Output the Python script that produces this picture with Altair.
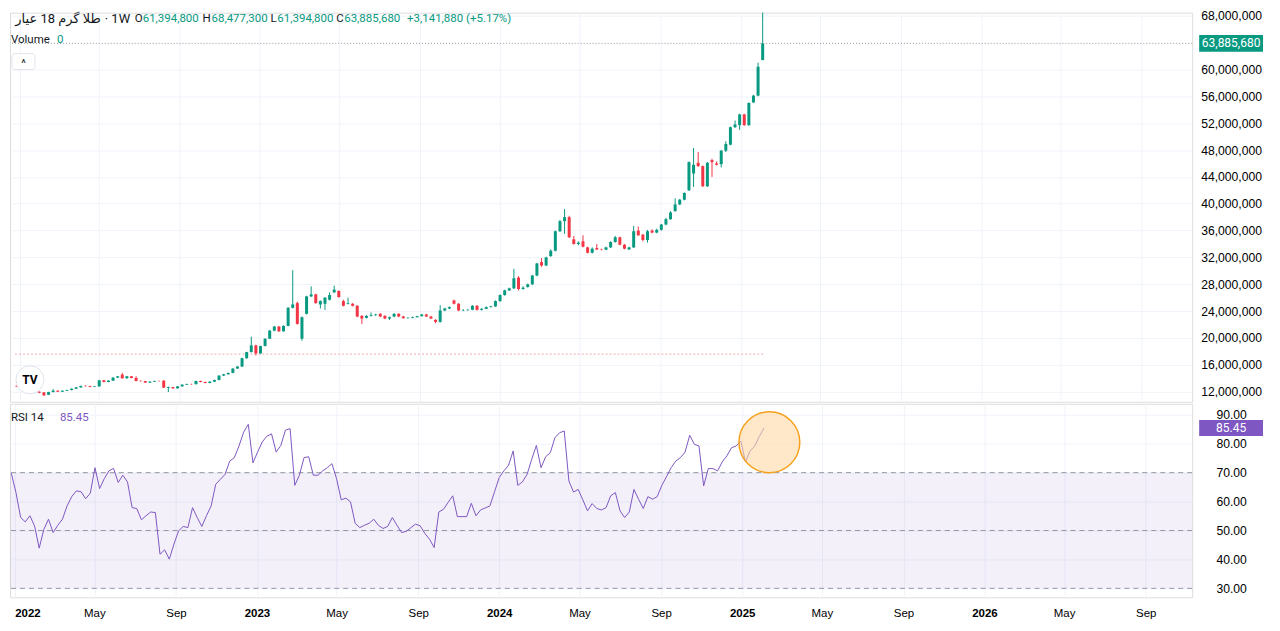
import altair as alt
import pandas as pd

FONT = "Roboto, 'DejaVu Sans', sans-serif"
GREEN = "#089981"
RED = "#F23645"
PURPLE = "#7E57C2"
GRID = "#F0F3FA"
TEXT = "#131722"

# ---------------- data (weekly candles, millions of rials) ----------------
start_date = "2021-12-27"

opens = [
    12.85, 12.80, 12.72, 12.30, 11.85, 12.00, 11.90, 11.55, 11.95, 12.15,
    12.00, 12.15, 12.25, 12.45, 12.65, 12.88, 12.83, 12.72, 12.80, 13.70,
    13.45, 13.65, 14.10, 14.55, 14.00, 14.30, 14.05, 13.62, 13.58, 13.35,
    13.50, 13.60, 13.65, 12.55, 12.68, 12.50, 12.80, 13.05, 13.15, 13.12,
    13.60, 13.45, 13.30, 13.50, 13.75, 14.40, 14.60, 14.80, 15.45, 15.75,
    17.00, 17.90, 18.90, 17.70, 18.80, 19.90, 21.10, 21.70, 21.00, 21.80,
    24.50, 25.20, 19.90, 23.60, 26.20, 26.50, 25.00, 25.10, 25.70, 26.80,
    27.00, 25.50, 25.10, 25.10, 24.80, 23.30, 23.00, 23.30, 23.40, 23.60,
    23.30, 22.90, 23.20, 23.60, 23.20, 22.95, 23.00, 23.10, 23.25, 23.50,
    23.20, 22.70, 22.40, 24.10, 24.40, 25.60, 25.10, 24.10, 24.15, 24.20,
    24.80, 24.20, 24.35, 24.60, 24.70, 25.50, 26.40, 27.10, 27.40, 29.00,
    27.30, 27.60, 28.00, 29.30, 31.30, 30.80, 32.20, 33.00, 35.90, 37.40,
    38.00, 34.70, 34.00, 34.40, 33.50, 32.70, 33.40, 33.20, 33.15, 33.50,
    34.30, 35.00, 33.90, 33.20, 33.50, 36.00, 35.40, 34.60, 36.00, 35.70,
    36.10, 36.90, 37.70, 38.90, 39.90, 40.60, 42.00, 44.50, 46.10, 45.60,
    42.60, 46.50, 46.00, 45.90, 47.90, 48.80, 51.40, 51.70, 53.30, 51.70,
    55.10, 56.10, 61.3948,
]
highs = [
    12.95, 12.88, 12.80, 12.35, 12.10, 12.05, 11.95, 12.00, 12.40, 12.20,
    12.20, 12.30, 12.50, 12.70, 12.90, 12.95, 12.88, 12.85, 13.75, 13.75,
    13.70, 14.15, 14.35, 14.80, 14.35, 14.35, 14.30, 13.70, 13.62, 13.55,
    13.65, 13.68, 13.70, 12.75, 12.72, 12.85, 13.10, 13.20, 13.20, 13.65,
    13.65, 13.50, 13.55, 13.80, 14.45, 14.65, 14.85, 15.50, 15.80, 17.05,
    17.95, 20.20, 19.00, 18.85, 19.95, 21.20, 21.80, 21.80, 21.90, 24.60,
    30.10, 25.40, 23.20, 26.30, 27.70, 26.60, 25.60, 26.10, 26.80, 27.80,
    27.10, 25.70, 26.00, 25.20, 24.90, 23.40, 23.40, 23.80, 23.60, 23.70,
    23.40, 23.20, 23.70, 23.70, 23.30, 23.10, 23.20, 23.30, 23.60, 23.60,
    23.30, 22.80, 24.90, 24.50, 24.70, 25.70, 25.20, 24.30, 24.30, 24.90,
    24.90, 24.45, 24.70, 24.80, 25.60, 26.50, 27.20, 27.50, 30.30, 29.20,
    27.70, 28.10, 29.40, 31.20, 31.90, 32.10, 33.20, 36.00, 37.60, 39.20,
    38.20, 35.20, 34.40, 35.30, 33.60, 33.50, 34.00, 33.30, 33.60, 34.40,
    35.20, 35.10, 34.00, 33.60, 36.70, 36.60, 35.50, 36.10, 36.20, 36.30,
    37.00, 37.90, 38.90, 40.80, 40.70, 41.70, 46.30, 48.30, 47.70, 45.70,
    46.20, 46.70, 46.30, 48.00, 49.30, 51.50, 52.40, 53.40, 53.40, 55.10,
    56.20, 61.00, 68.4773,
]
lows = [
    12.72, 12.62, 12.22, 11.75, 11.80, 11.78, 11.40, 11.50, 11.90, 11.95,
    11.95, 12.10, 12.20, 12.40, 12.60, 12.78, 12.65, 12.68, 12.75, 13.40,
    13.40, 13.60, 14.05, 13.95, 13.95, 14.00, 13.55, 13.50, 13.30, 13.30,
    13.45, 13.52, 12.55, 11.95, 12.45, 12.45, 12.75, 13.00, 13.05, 13.10,
    13.40, 13.25, 13.25, 13.45, 13.70, 14.35, 14.55, 14.75, 15.40, 15.70,
    16.90, 17.85, 17.40, 17.65, 18.75, 19.85, 21.00, 20.90, 20.95, 21.75,
    24.40, 22.00, 19.60, 23.50, 26.10, 25.10, 24.40, 24.20, 25.60, 26.70,
    26.00, 24.70, 25.00, 24.70, 23.10, 22.10, 22.90, 23.20, 23.30, 23.10,
    22.80, 22.70, 23.10, 23.10, 22.90, 22.90, 22.95, 23.05, 23.20, 23.15,
    22.85, 22.20, 22.30, 24.00, 24.30, 25.00, 24.00, 24.00, 24.05, 24.15,
    24.10, 24.10, 24.30, 24.55, 24.65, 25.40, 26.30, 27.00, 27.30, 27.10,
    27.20, 27.50, 27.90, 29.20, 30.60, 30.70, 32.10, 32.90, 35.80, 35.50,
    34.90, 33.90, 33.80, 33.50, 32.60, 32.60, 33.10, 33.05, 33.10, 33.40,
    34.20, 33.80, 33.20, 33.10, 33.40, 35.20, 34.40, 34.20, 35.60, 35.60,
    36.00, 36.80, 37.60, 38.80, 39.80, 40.50, 41.90, 42.50, 45.50, 42.50,
    42.50, 44.00, 45.70, 45.40, 47.70, 48.70, 51.30, 51.00, 51.60, 51.60,
    55.00, 56.00, 61.3948,
]
closes = [
    12.80, 12.72, 12.30, 11.85, 12.00, 11.85, 11.45, 11.95, 12.15, 12.00,
    12.15, 12.25, 12.45, 12.65, 12.85, 12.83, 12.72, 12.80, 13.70, 13.45,
    13.65, 14.10, 14.30, 14.00, 14.30, 14.05, 13.60, 13.58, 13.35, 13.50,
    13.60, 13.58, 12.60, 12.68, 12.50, 12.80, 13.05, 13.15, 13.12, 13.60,
    13.45, 13.30, 13.50, 13.75, 14.40, 14.60, 14.80, 15.45, 15.75, 17.00,
    17.90, 18.90, 17.70, 18.80, 19.90, 21.10, 21.70, 21.00, 21.80, 24.50,
    25.00, 22.10, 23.10, 26.20, 26.50, 25.20, 25.50, 26.00, 26.40, 27.20,
    26.10, 24.80, 25.20, 24.80, 23.20, 22.90, 23.30, 23.40, 23.50, 23.20,
    22.90, 23.10, 23.60, 23.20, 22.95, 23.00, 23.10, 23.25, 23.50, 23.20,
    22.90, 22.40, 24.10, 24.40, 24.60, 25.10, 24.10, 24.15, 24.20, 24.80,
    24.20, 24.35, 24.60, 24.70, 25.50, 26.40, 27.10, 27.40, 28.90, 27.30,
    27.50, 28.00, 29.30, 31.10, 30.80, 32.00, 33.00, 35.90, 37.40, 38.00,
    35.00, 34.00, 34.20, 33.60, 32.70, 33.30, 33.20, 33.15, 33.50, 34.30,
    35.00, 33.90, 33.30, 33.50, 35.90, 35.30, 34.60, 35.90, 35.70, 36.10,
    36.90, 37.70, 38.70, 39.90, 40.60, 41.60, 46.20, 45.80, 45.60, 42.60,
    46.10, 46.20, 45.80, 47.90, 48.90, 51.40, 51.80, 53.30, 51.70, 55.00,
    56.10, 60.40, 63.88568,
]
rsi_values = [
    69.8, 63.1, 54.5, 53.0, 55.1, 51.6, 43.9, 50.4, 53.9, 49.3,
    51.8, 53.9, 58.5, 61.7, 63.7, 63.4, 61.0, 62.9, 71.7, 64.5,
    67.9, 70.6, 71.5, 66.6, 69.1, 66.8, 57.9, 57.6, 53.7, 55.1,
    56.4, 56.2, 41.8, 43.3, 40.1, 45.3, 49.9, 51.4, 51.0, 57.9,
    54.5, 51.4, 55.1, 58.5, 66.0, 67.7, 69.4, 74.0, 75.2, 79.2,
    84.0, 86.7, 73.4, 77.1, 80.6, 82.6, 83.4, 77.1, 79.4, 84.7,
    85.2, 65.6, 69.1, 75.2, 75.5, 69.1, 69.1, 70.6, 71.7, 73.1,
    67.9, 60.6, 61.2, 59.9, 52.5, 51.0, 51.8, 52.5, 53.9, 51.8,
    50.7, 51.4, 54.5, 51.8, 49.3, 49.7, 51.0, 52.2, 51.6, 49.0,
    47.0, 44.1, 56.4, 57.3, 59.7, 62.0, 54.8, 54.8, 54.8, 59.4,
    55.1, 57.1, 57.8, 58.5, 63.4, 68.3, 70.6, 72.5, 77.5, 65.6,
    66.8, 69.4, 74.6, 79.4, 71.7, 75.5, 76.9, 82.1, 83.8, 84.4,
    67.1, 63.3, 64.2, 60.6, 56.8, 59.3, 57.6, 57.1, 57.9, 62.0,
    63.1, 56.8, 54.5, 56.4, 64.2, 60.8, 57.6, 61.7, 60.8, 61.7,
    65.6, 68.6, 71.7, 74.0, 75.2, 77.1, 82.9, 79.8, 79.2, 65.4,
    71.4, 71.4, 70.6, 73.7, 75.8, 78.6, 79.2, 80.9, 73.7, 77.5,
    79.2, 82.6, 85.45,
]

price_ticks = [12, 16, 20, 24, 28, 32, 36, 40, 44, 48, 52, 56, 60, 68]
rsi_ticks = [30, 40, 50, 60, 70, 80, 90]
rsi_levels = [70, 50, 30]
last_ohlc = [61394800, 68477300, 61394800, 63885680]
last_change = 3141880
last_change_pct = 5.17
last_rsi = 85.45
symbol_name = "طلا گرم 18 عیار"
interval = "· 1W"
hline_price = 17.6
hline_span = ["2021-12-25", "2025-02-06"]
highlight = {"d": "2025-02-11", "v": 80.5}

# ---------------- layout constants ----------------
W, H1, H2 = 1185, 390, 194

dates = pd.date_range(start_date, periods=len(closes), freq="7D").strftime("%Y-%m-%d")
df = pd.DataFrame({"date": dates, "o": opens, "h": highs, "l": lows, "c": closes, "rsi": rsi_values})

xs = alt.Scale(type="utc", domain=[alt.DateTime(year=2021, month=12, date=25, utc=True),
                                    alt.DateTime(year=2026, month=11, date=10, utc=True)])
tick_dates = [alt.DateTime(year=y, month=m, date=1, utc=True) for y in range(2022, 2027) for m in (1, 5, 9)]
is_jan = "utcFormat(datum.value, '%m') == '01'"
x_axis_top = alt.Axis(values=tick_dates, labels=False, ticks=False, domain=False, grid=True,
                      gridColor=GRID, title=None)
x_axis_bot = alt.Axis(values=tick_dates,
                      labelExpr=f"{is_jan} ? utcFormat(datum.value, '%Y') : utcFormat(datum.value, '%b')",
                      labelFontWeight={"condition": {"test": is_jan, "value": "bold"}, "value": "normal"},
                      ticks=False, domain=False, grid=True, gridColor=GRID, title=None,
                      labelPadding=10, labelFlush=12, labelOverlap=False, labelFontSize=11.5)

ys = alt.Scale(domain=[10.5, 68.45], nice=False, zero=False)
y_axis_p = alt.Axis(orient="right", values=price_ticks, labelExpr="format(datum.value * 1000000, ',')",
                    grid=True, gridColor=GRID, ticks=False, domain=False, labelAlign="center",
                    labelPadding=39, labelFlush=False, title=None, labelFontSize=12.2)
rs = alt.Scale(domain=[26.9, 93.8], nice=False, zero=False)
y_axis_r = alt.Axis(orient="right", values=rsi_ticks, format=".2f", grid=True, gridColor=GRID,
                    ticks=False, domain=False, labelAlign="center", labelPadding=39,
                    labelFlush=False, title=None, labelFontSize=12.2)


def label(text, px, py, color, size=11.5, weight="normal", align="left"):
    return alt.Chart(pd.DataFrame({"t": [text]})).mark_text(
        align=align, baseline="middle", font=FONT, fontSize=size, color=color, fontWeight=weight
    ).encode(text="t:N", x=alt.value(px), y=alt.value(py))


cond = alt.condition("datum.c >= datum.o", alt.value(GREEN), alt.value(RED))
X_top = alt.X("date:T", scale=xs, axis=x_axis_top, title=None)
base = alt.Chart(df)

hline = alt.Chart(pd.DataFrame({"a": [hline_span[0]], "b": [hline_span[1]], "p": [hline_price]})).mark_rule(
    color="#F0A8AF", strokeDash=[2, 2], strokeWidth=1
).encode(x=alt.X("a:T", scale=xs, axis=x_axis_top, title=None), x2="b:T",
         y=alt.Y("p:Q", scale=ys, axis=y_axis_p, title=None))

wicks = base.mark_rule(strokeWidth=1).encode(
    x=X_top, y=alt.Y("l:Q", scale=ys, axis=y_axis_p, title=None), y2="h:Q", color=cond)
bodies = base.mark_bar(size=3).encode(
    x=X_top, y=alt.Y("o:Q", scale=ys, axis=y_axis_p, title=None), y2="c:Q", color=cond)

last_df = pd.DataFrame({"p": [last_ohlc[3] / 1e6], "t": [f"{last_ohlc[3]:,}"]})
price_line = alt.Chart(last_df).mark_rule(color="#9598A1", strokeDash=[1, 2], strokeWidth=1).encode(
    y=alt.Y("p:Q", scale=ys, axis=y_axis_p, title=None))
price_tag = alt.Chart(last_df).mark_rule(color=GREEN, strokeWidth=17).encode(
    x=alt.value(W + 7), x2=alt.value(W + 71), y=alt.Y("p:Q", scale=ys, axis=y_axis_p, title=None))
price_tag_text = alt.Chart(last_df).mark_text(color="white", font=FONT, fontSize=12, align="center",
                                              baseline="middle").encode(
    x=alt.value(W + 39), y=alt.Y("p:Q", scale=ys, axis=y_axis_p, title=None), text="t:N")

o, h, l, c = last_ohlc
header_pieces = ["O", f"{o:,}", "H", f"{h:,}", "L", f"{l:,}", "C", f"{c:,}",
                 f"+{last_change:,} (+{last_change_pct:.2f}%)"]
header_x = [125, 133, 193, 202, 261, 268, 327, 335, 398]
header_colors = [TEXT, GREEN, TEXT, GREEN, TEXT, GREEN, TEXT, GREEN, GREEN]
texts_top = [label(t, x, 6, col) for t, x, col in zip(header_pieces, header_x, header_colors)]
texts_top.append(label(symbol_name, 91, 6, TEXT, size=13, align="right"))
texts_top.append(label(interval, 95, 6, TEXT, size=13))
texts_top.append(label("Volume", 1, 27, TEXT))
texts_top.append(label("0", 47, 27, GREEN))

caret_box = alt.Chart(pd.DataFrame({"k": [0]})).mark_rect(
    fill="white", stroke="#E0E3EB", strokeWidth=1, cornerRadius=3
).encode(x=alt.value(2), x2=alt.value(25), y=alt.value(41), y2=alt.value(57))
caret = label("^", 13.5, 51, TEXT, size=11, align="center")

# TradingView watermark badge
logo_badge = alt.Chart(pd.DataFrame({"k": [0]})).mark_point(
    shape="circle", filled=True, size=784, fill="white", stroke="#E0E3EB", strokeWidth=1, opacity=1
).encode(x=alt.value(20), y=alt.value(368))
logo_text = label("TV", 20, 368, "#000000", size=12, weight="bold", align="center")

top = alt.layer(hline, wicks, bodies, price_line, price_tag, price_tag_text, caret_box, caret,
                logo_badge, logo_text, *texts_top).properties(width=W, height=H1)

# ---------------- RSI panel ----------------
X_bot = alt.X("date:T", scale=xs, axis=x_axis_bot, title=None)
band = alt.Chart(pd.DataFrame({"lo": [30], "hi": [70]})).mark_rect(color=PURPLE, opacity=0.09).encode(
    x=alt.value(0), x2=alt.value(W), y=alt.Y("hi:Q", scale=rs, axis=y_axis_r, title=None), y2="lo:Q")
levels = alt.Chart(pd.DataFrame({"v": rsi_levels})).mark_rule(
    color="#787B86", strokeDash=[5, 4], strokeWidth=1, opacity=0.75
).encode(y=alt.Y("v:Q", scale=rs, axis=y_axis_r, title=None))
rsi_line = base.mark_line(color=PURPLE, strokeWidth=1).encode(
    x=X_bot, y=alt.Y("rsi:Q", scale=rs, axis=y_axis_r, title=None))
circle = alt.Chart(pd.DataFrame({"d": [highlight["d"]], "v": [highlight["v"]]})).mark_point(
    shape="circle", filled=True, size=3721, fill="#FFD8A6", fillOpacity=0.6,
    stroke="#F5A11C", strokeWidth=1.5, opacity=1
).encode(x=alt.X("d:T", scale=xs, axis=x_axis_bot, title=None),
         y=alt.Y("v:Q", scale=rs, axis=y_axis_r, title=None))

rsi_df = pd.DataFrame({"v": [last_rsi], "t": [f"{last_rsi:.2f}"]})
rsi_tag = alt.Chart(rsi_df).mark_rule(color=PURPLE, strokeWidth=16).encode(
    x=alt.value(W + 7), x2=alt.value(W + 71), y=alt.Y("v:Q", scale=rs, axis=y_axis_r, title=None))
rsi_tag_text = alt.Chart(rsi_df).mark_text(color="white", font=FONT, fontSize=12, align="center",
                                           baseline="middle").encode(
    x=alt.value(W + 39), y=alt.Y("v:Q", scale=rs, axis=y_axis_r, title=None), text="t:N")

rsi_texts = [label("RSI 14", 1, 14, TEXT), label(f"{last_rsi:.2f}", 50, 14, PURPLE)]

bottom = alt.layer(band, levels, rsi_line, circle, rsi_tag, rsi_tag_text, *rsi_texts).properties(
    width=W, height=H2)

chart = alt.vconcat(top, bottom, spacing=0, padding=0).configure_view(
    stroke="#E0E3EB", strokeWidth=1
).configure_axis(
    labelFont=FONT, labelColor=TEXT
).configure(background="white")

chart.save("out.html", embed_options={"renderer": "svg", "actions": False})
